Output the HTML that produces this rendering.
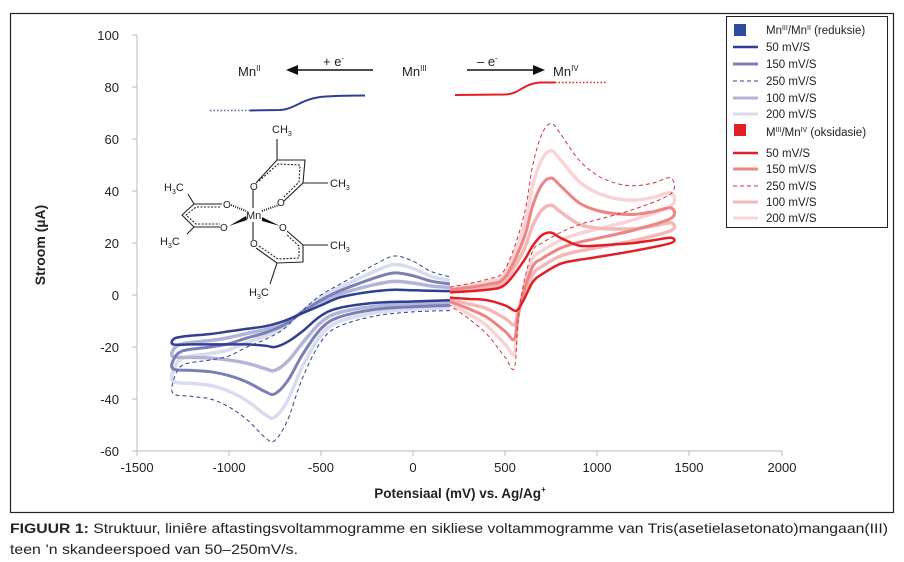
<!DOCTYPE html>
<html><head><meta charset="utf-8"><style>
html,body{margin:0;padding:0;background:#fff}
svg{display:block}
text{font-family:"Liberation Sans",sans-serif;fill:#222}
</style></head><body>
<svg id="s" width="904" height="562" viewBox="0 0 904 562" xmlns="http://www.w3.org/2000/svg">
<rect x="10.5" y="13.5" width="883" height="499" fill="none" stroke="#222" stroke-width="1.2"/>
<!-- axes -->
<line x1="137" y1="35" x2="137" y2="451" stroke="#bbb"/>
<line x1="137" y1="451" x2="782" y2="451" stroke="#bbb"/>
<g stroke="#bbb">
<line x1="132" y1="35" x2="137" y2="35"/><line x1="132" y1="87" x2="137" y2="87"/><line x1="132" y1="139" x2="137" y2="139"/><line x1="132" y1="191" x2="137" y2="191"/><line x1="132" y1="243" x2="137" y2="243"/><line x1="132" y1="295" x2="137" y2="295"/><line x1="132" y1="347" x2="137" y2="347"/><line x1="132" y1="399" x2="137" y2="399"/><line x1="132" y1="451" x2="137" y2="451"/>
<line x1="137" y1="451" x2="137" y2="456"/><line x1="229" y1="451" x2="229" y2="456"/><line x1="321" y1="451" x2="321" y2="456"/><line x1="413" y1="451" x2="413" y2="456"/><line x1="505" y1="451" x2="505" y2="456"/><line x1="597" y1="451" x2="597" y2="456"/><line x1="689" y1="451" x2="689" y2="456"/><line x1="782" y1="451" x2="782" y2="456"/>
</g>
<g font-size="13" text-anchor="end">
<text x="119" y="40">100</text><text x="119" y="92">80</text><text x="119" y="144">60</text><text x="119" y="196">40</text><text x="119" y="248">20</text><text x="119" y="300">0</text><text x="119" y="352">-20</text><text x="119" y="404">-40</text><text x="119" y="456">-60</text>
</g>
<g font-size="13" text-anchor="middle">
<text x="137" y="472">-1500</text><text x="229" y="472">-1000</text><text x="321" y="472">-500</text><text x="413" y="472">0</text><text x="505" y="472">500</text><text x="597" y="472">1000</text><text x="689" y="472">1500</text><text x="782" y="472">2000</text>
</g>
<text x="460" y="498" font-size="13.5" font-weight="bold" text-anchor="middle">Potensiaal (mV) vs. Ag/Ag<tspan font-size="8" dy="-6">+</tspan></text>
<text transform="translate(45,245) rotate(-90)" font-size="14" font-weight="bold" text-anchor="middle">Stroom (µA)</text>

<g id="curves" fill="none"></g>

<!-- schematic -->
<g font-size="13">
<text x="238" y="76">Mn<tspan font-size="8" dy="-5">II</tspan></text>
<text x="402" y="76">Mn<tspan font-size="8" dy="-5">III</tspan></text>
<text x="553" y="76">Mn<tspan font-size="8" dy="-5">IV</tspan></text>
<text x="323" y="66">+ e<tspan font-size="8" dy="-5">-</tspan></text>
<text x="477" y="66">– e<tspan font-size="8" dy="-5">-</tspan></text>
</g>
<line x1="373" y1="70" x2="296" y2="70" stroke="#111" stroke-width="1.5"/>
<polygon points="286,70 298,65 298,75" fill="#111"/>
<line x1="467" y1="70" x2="535" y2="70" stroke="#111" stroke-width="1.5"/>
<polygon points="545,70 533,65 533,75" fill="#111"/>
<line x1="210" y1="110.5" x2="250" y2="110.5" stroke="#5a64a8" stroke-width="1.5" stroke-dasharray="1.5,2"/>
<path d="M250,110.5 L280,110 C295,109 300,100 320,97 C335,95.5 350,95.5 365,95.5" stroke="#2e3f94" stroke-width="2" fill="none"/>
<path d="M455,95 L505,94.5 C520,94 522,84 540,82.5 L555,82.5" stroke="#e31e24" stroke-width="2" fill="none"/>
<line x1="555" y1="82.5" x2="606" y2="82.5" stroke="#e31e24" stroke-width="1.5" stroke-dasharray="1.5,2"/>

<!-- molecule -->
<g stroke="#222" stroke-width="1.1" fill="none">
<line x1="253" y1="190" x2="253" y2="208"/>
<line x1="253" y1="222" x2="253" y2="240"/>
<path d="M256,183 L277,160 L305,160 L303,183 L284,201"/>
<path d="M259,181 L278,164 L300,165 L299,182 L284,197" stroke-dasharray="2,1.5"/>
<line x1="277" y1="160" x2="277" y2="139"/>
<line x1="303" y1="183" x2="328" y2="183"/>
<path d="M222,204 L194,204 L182,215 L194,227 L220,227"/>
<path d="M220,207 L196,207 L186,215 L196,224 L220,224" stroke-dasharray="2,1.5"/>
<line x1="194" y1="204" x2="188" y2="194"/>
<line x1="194" y1="227" x2="187" y2="234"/>
<path d="M256,248 L277,263 L303,262 L303,245 L287,231"/>
<path d="M259,246 L278,259 L299,258 L299,246 L286,234" stroke-dasharray="2,1.5"/>
<line x1="303" y1="245" x2="328" y2="245"/>
<line x1="277" y1="263" x2="270" y2="284"/>
<line x1="231" y1="205" x2="246" y2="211" stroke-dasharray="1,1.2" stroke-width="2"/>
<line x1="262" y1="211" x2="279" y2="205" stroke-dasharray="1,1.2" stroke-width="2"/>
</g>
<polygon points="229,226 246,216 247,220" fill="#111"/>
<polygon points="262,217 280,226 262,221" fill="#111"/>
<g font-size="11">
<text x="246" y="219">Mn</text>
<text x="250" y="190" font-size="10">O</text><text x="250" y="247" font-size="10">O</text>
<text x="223" y="208" font-size="10">O</text><text x="220" y="231" font-size="10">O</text>
<text x="277" y="206" font-size="10">O</text><text x="279" y="231" font-size="10">O</text>
<text x="272" y="133">CH<tspan font-size="7" dy="3">3</tspan></text>
<text x="330" y="187">CH<tspan font-size="7" dy="3">3</tspan></text>
<text x="330" y="249">CH<tspan font-size="7" dy="3">3</tspan></text>
<text x="164" y="191">H<tspan font-size="7" dy="3">3</tspan><tspan dy="-3">C</tspan></text>
<text x="160" y="245">H<tspan font-size="7" dy="3">3</tspan><tspan dy="-3">C</tspan></text>
<text x="249" y="296">H<tspan font-size="7" dy="3">3</tspan><tspan dy="-3">C</tspan></text>
</g>

<!-- legend -->
<rect x="726.5" y="16.5" width="161" height="211" fill="#fff" stroke="#222" stroke-width="1"/>
<rect x="734" y="24" width="12" height="12" fill="#2e4a9e"/>
<rect x="734" y="124" width="12" height="12" fill="#e31e24"/>
<g stroke-width="2.5">
<line x1="733" y1="47" x2="758" y2="47" stroke="#2e3f94"/>
<line x1="733" y1="64" x2="758" y2="64" stroke="#7b7fb8" stroke-width="3"/>
<line x1="733" y1="81" x2="758" y2="81" stroke="#2e3f94" stroke-width="1" stroke-dasharray="4,3"/>
<line x1="733" y1="98" x2="758" y2="98" stroke="#b3b5d8" stroke-width="3"/>
<line x1="733" y1="114" x2="758" y2="114" stroke="#d9dbee" stroke-width="3"/>
<line x1="733" y1="153" x2="758" y2="153" stroke="#e31e24"/>
<line x1="733" y1="169" x2="758" y2="169" stroke="#ee8585" stroke-width="3"/>
<line x1="733" y1="186" x2="758" y2="186" stroke="#d7323a" stroke-width="1" stroke-dasharray="4,3"/>
<line x1="733" y1="202" x2="758" y2="202" stroke="#f4b8b8" stroke-width="3"/>
<line x1="733" y1="218" x2="758" y2="218" stroke="#f8d4d6" stroke-width="3"/>
</g>
<g font-size="11.5">
<text x="766" y="34">Mn<tspan font-size="7" dy="-4">III</tspan><tspan dy="4">/Mn</tspan><tspan font-size="7" dy="-4">II</tspan><tspan dy="4"> (reduksie)</tspan></text>
<text x="766" y="51">50 mV/S</text><text x="766" y="68">150 mV/S</text><text x="766" y="85">250 mV/S</text><text x="766" y="102">100 mV/S</text><text x="766" y="118">200 mV/S</text>
<text x="766" y="136">M<tspan font-size="7" dy="-4">III</tspan><tspan dy="4">/Mn</tspan><tspan font-size="7" dy="-4">IV</tspan><tspan dy="4"> (oksidasie)</tspan></text>
<text x="766" y="157">50 mV/S</text><text x="766" y="173">150 mV/S</text><text x="766" y="190">250 mV/S</text><text x="766" y="206">100 mV/S</text><text x="766" y="222">200 mV/S</text>
</g>

<!-- caption -->
<text x="10" y="533" font-size="14" textLength="878" lengthAdjust="spacingAndGlyphs"><tspan font-weight="bold">FIGUUR 1:</tspan> Struktuur, liniêre aftastingsvoltammogramme en sikliese voltammogramme van Tris(asetielasetonato)mangaan(III)</text>
<text x="10" y="554" font-size="14" textLength="288" lengthAdjust="spacingAndGlyphs">teen ’n skandeerspoed van 50–250mV/s.</text>
</svg>
<script>
function X(E){return 413+E*0.1843}
function Y(i){return 295-i*2.6}
function path(pts){
 var d="M"+pts[0][0].toFixed(1)+","+pts[0][1].toFixed(1);
 for(var k=0;k<pts.length-1;k++){
  var p0=pts[k-1]||pts[k],p1=pts[k],p2=pts[k+1],p3=pts[k+2]||pts[k+1];
  var c1=[p1[0]+(p2[0]-p0[0])/6,p1[1]+(p2[1]-p0[1])/6];
  var c2=[p2[0]-(p3[0]-p1[0])/6,p2[1]-(p3[1]-p1[1])/6];
  d+="C"+c1[0].toFixed(1)+","+c1[1].toFixed(1)+" "+c2[0].toFixed(1)+","+c2[1].toFixed(1)+" "+p2[0].toFixed(1)+","+p2[1].toFixed(1);
 }
 return d;
}
function build(gl,l50,l250,gu,u50,u250,t){
 var pts=[];
 for(var k=0;k<gl.length;k++)pts.push([X(gl[k]),Y(l50[k]+t*(l250[k]-l50[k]))]);
 for(var k=0;k<gu.length;k++)pts.push([X(gu[k]),Y(u50[k]+t*(u250[k]-u50[k]))]);
 return path(pts);
}
// blue
var bgl=[200,0,-200,-400,-500,-600,-680,-750,-800,-900,-1000,-1100,-1200,-1300];
var bl250=[-6,-6.5,-8,-12,-18,-32,-48,-56,-55,-48,-43,-40,-39,-38];
var bl50=[-2,-2.5,-3,-5,-8,-14,-18,-20,-19.5,-19,-19,-19,-19,-19];
var bgu=[-1300,-1250,-1100,-1000,-900,-800,-700,-600,-500,-400,-300,-200,-100,0,100,200];
var bu250=[-33,-27,-25,-23.5,-20,-17,-13,-6,0,4,8,12,15,13,9,7];
var bu50=[-17,-16,-15,-14,-13,-12,-10,-7,-4,-1,0.5,1.5,2,1.8,1.6,1.5];
// red
var rgu=[200,400,500,600,650,700,750,800,900,1000,1100,1200,1300,1400];
var ru250=[3,6,10,30,50,62,66,62,52,46,43,42,43,45];
var ru50=[1,2,4,13,19,23,24,22,19,19,19.5,20,21,22];
var rgl=[1400,1200,1000,900,800,700,650,600,570,550,500,400,300,200];
var rl250=[39,33,29,27,24,20,17,4,-10,-28,-24,-15,-9,-4];
var rl50=[20,17,14.6,13.5,12,8,5,-2,-5.5,-6,-4,-2,-1.5,-1];
var specs=[
 [0.75,"#d9dbee","#f8d4d6",3.5,""],
 [0.25,"#b3b5d8","#f4b8b8",3.5,""],
 [0.5,"#7b7fb8","#ee8585",3,""],
 [1,"#2e3f94","#d7323a",1,"4,3"],
 [0,"#2e3f94","#e31e24",2.5,""]
];
var g=document.getElementById("curves"),h="";
specs.forEach(function(s){
 var da=s[4]?' stroke-dasharray="'+s[4]+'"':'';
 h+='<path d="'+build(bgl,bl50,bl250,bgu,bu50,bu250,s[0])+'" stroke="'+s[1]+'" stroke-width="'+s[3]+'"'+da+' stroke-linejoin="round"/>';
 h+='<path d="'+build(rgu,ru50,ru250,rgl,rl50,rl250,s[0])+'" stroke="'+s[2]+'" stroke-width="'+s[3]+'"'+da+' stroke-linejoin="round"/>';
});
g.innerHTML=h;
</script>
</body></html>
